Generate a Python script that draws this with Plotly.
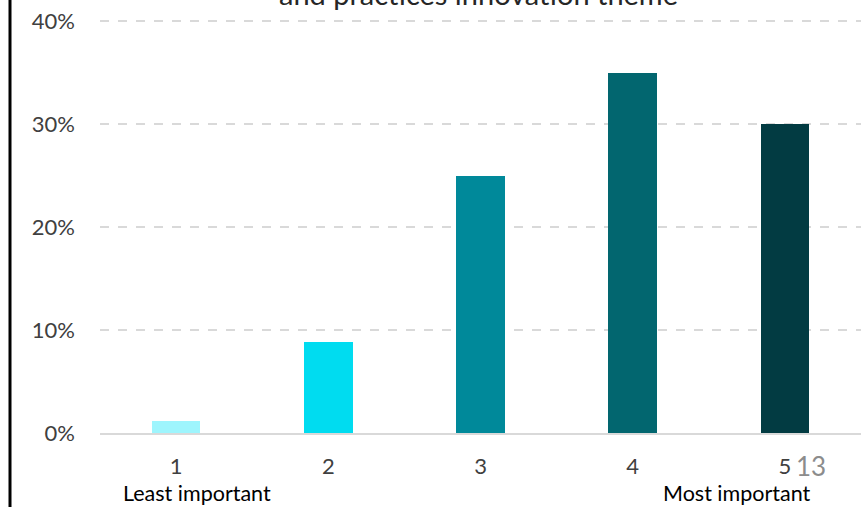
import plotly.graph_objects as go

categories = ["1", "2", "3", "4", "5"]
values = [1.2, 8.8, 25.0, 35.0, 30.0]
bar_colors = ["#9EF5FD", "#00DCF0", "#00899A", "#02666F", "#023B42"]
y_ticks = [0, 10, 20, 30, 40]
y_tick_labels = ["0%", "10%", "20%", "30%", "40%"]
title_text = "and practices innovation theme"
low_label = "Least important"
high_label = "Most important"
page_number = "13"

FONT = "Lato, 'Open Sans', sans-serif"
TXT = "#404040"

W, H = 861, 507
ML, MT, MB = 100, 19, 74
PW, PH = W - ML, H - MT - MB

def px(xpix):
    return (xpix - ML) / PW

def py(ypix):
    return (H - MB - ypix) / PH

fig = go.Figure()
fig.add_trace(go.Bar(
    x=categories, y=values, marker=dict(color=bar_colors, line=dict(width=0)),
    width=0.32, showlegend=False, hoverinfo="skip",
))

fig.update_layout(
    width=W, height=H,
    margin=dict(l=ML, r=0, t=MT, b=MB, pad=0),
    paper_bgcolor="white", plot_bgcolor="white",
    font=dict(family=FONT, size=20, color=TXT),
    bargap=0,
    xaxis=dict(
        type="category", range=[-0.5, 4.5], showgrid=False, zeroline=False,
        showline=True, linecolor="#D9D9D9", linewidth=2,
        ticks="", ticklabelstandoff=13, tickfont=dict(size=22, color=TXT),
    ),
    yaxis=dict(
        range=[0, 40.2], tickvals=y_ticks, ticktext=y_tick_labels,
        showgrid=True, gridcolor="#D9D9D9", gridwidth=2, griddash="dash",
        zeroline=False, showline=False, ticks="", ticklabelstandoff=24,
        tickfont=dict(size=22, color=TXT),
    ),
    shapes=[
        dict(type="line", xref="paper", yref="paper", x0=px(10), x1=px(10),
             y0=py(H + 5), y1=py(-5), line=dict(color="black", width=3)),
    ],
    annotations=[
        dict(text=title_text, xref="paper", yref="paper", x=px(478), y=py(13),
             xanchor="center", yanchor="bottom", showarrow=False,
             font=dict(size=29, color="#262626", family=FONT)),
        dict(text=low_label, xref="paper", yref="paper", x=px(197), y=py(493),
             xanchor="center", yanchor="middle", showarrow=False,
             font=dict(size=21.5, color="#000000", family=FONT)),
        dict(text=high_label, xref="paper", yref="paper", x=px(736), y=py(493),
             xanchor="center", yanchor="middle", showarrow=False,
             font=dict(size=21.5, color="#000000", family=FONT)),
        dict(text=page_number, xref="paper", yref="paper", x=px(794), y=py(466),
             xanchor="left", yanchor="middle", showarrow=False,
             font=dict(size=26, color="#8C8C8C", family=FONT)),
    ],
)

fig.write_html("out.html", config={"displayModeBar": False},
               post_script="document.body.style.margin='0';")
